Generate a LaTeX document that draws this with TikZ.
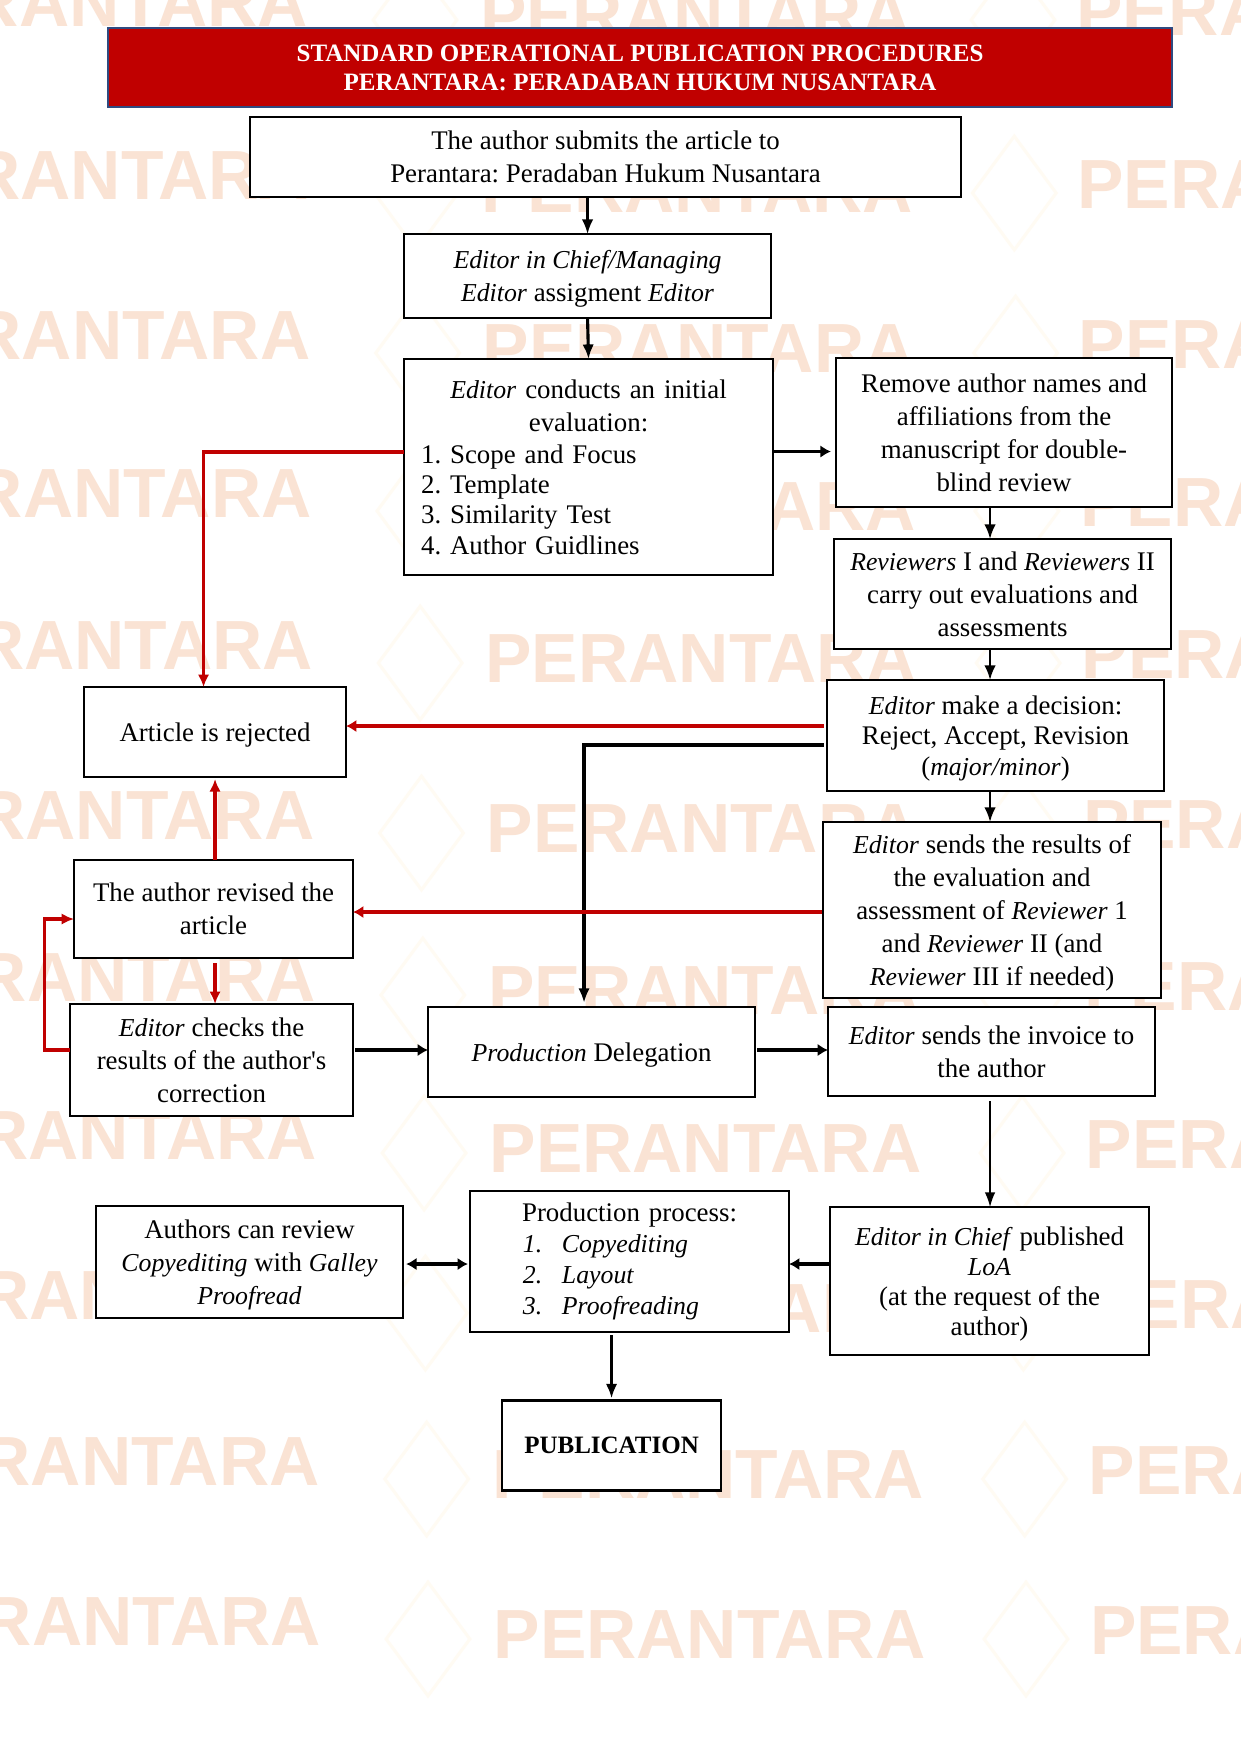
\documentclass[tikz,border=0pt]{standalone}
\usepackage{fontspec}
\setmainfont{Liberation Serif}[ItalicFeatures={Scale=0.96}]
\newfontfamily\wmfont{Liberation Sans}
\usetikzlibrary{arrows.meta,shapes.geometric}
\definecolor{wmtext}{HTML}{FAE3D4}
\definecolor{wmlogo}{HTML}{FFFBF3}
\definecolor{redbox}{HTML}{C00000}
\definecolor{bluerim}{HTML}{2F4A80}
\def\px{0.48pt}
\newcommand{\listrow}[4]{\makebox[\linewidth][l]{\hspace{#1}\makebox[#2][l]{#3}#4}}
\tikzset{
    boxed/.style args={#1/#2}{draw, line width=1.1pt, fill=white, inner sep=0pt, outer sep=0pt, align=center,
        minimum width=#1*\px, minimum height=#2*\px, font=\fontsize{12.9}{15.8}\selectfont\frenchspacing},
    lowered/.style={text depth=0pt},
    flow/.style={-{Latex[length=7pt,width=5.5pt]}, line width=1.1pt},
    flowelbow/.style={-{Latex[length=7pt,width=5.5pt]}, line width=1.5pt},
    flowthick/.style={-{Latex[length=5pt,width=6pt]}, line width=1.7pt},
    flowthin/.style={-{Latex[length=7pt,width=5pt]}, line width=0.7pt},
    flowred/.style={-{Latex[length=6pt,width=5.5pt]}, line width=1.5pt, draw=redbox},
    flowredthick/.style={-{Latex[length=5pt,width=6pt]}, line width=1.6pt, draw=redbox},
    wmword/.style={text=wmtext, font=\wmfont\fontsize{33.4}{34}\selectfont\bfseries, inner sep=0pt},
    wmdiamond/.style={diamond, draw=wmlogo, line width=1.5pt, minimum width=85*\px, minimum height=115*\px, inner sep=0pt}
}
\begin{document}
\begin{tikzpicture}[x=0.48pt,y=-0.48pt]
    \useasboundingbox (0,0) rectangle (1241,1755);
    \fill[white] (0,0) rectangle (1241,1755);
    % watermark
    \foreach \i/\yy in {0/3,1/176,2/336,3/494,4/646,5/816,6/978,7/1136,8/1296,9/1462,10/1622}{
        \node[wmdiamond, name=logoa\i] at ({415+\i*1.3},{\yy+17}) {};
        \node[wmdiamond, name=logob\i] at ({1013+\i*1.3},{\yy+17}) {};
        \node[wmword, name=wma\i] at ({92+\i*1.3},{\yy}) {PERANTARA};
        \node[wmword, name=wmb\i] at ({696+\i*1.35},{\yy+13}) {PERANTARA};
        \node[wmword, name=wmc\i] at ({1292+\i*1.4},{\yy+9}) {PERANTARA};
    }
    \begin{scope}[xshift=0.5pt]
    % boxes
    \node[draw=bluerim, fill=redbox, line width=1.1pt, text=white, inner sep=0pt, outer sep=0pt, align=center,
        minimum width=1064*\px, minimum height=79*\px, font=\fontsize{12}{14}\selectfont\bfseries] (title) at (639,67.5)
        {STANDARD OPERATIONAL PUBLICATION PROCEDURES\\PERANTARA: PERADABAN HUKUM NUSANTARA};
    \node[boxed=711/80] (submit) at (604.5,157) {The author submits the article to\\Perantara: Peradaban Hukum Nusantara};
    \node[boxed=367/84, lowered] (chief) at (586.5,276) {\textit{Editor in Chief/Managing}\\\textit{Editor} assigment \textit{Editor}};
    \node[boxed=369/216, text width=369*\px] (eval) at (587.5,467) {\textit{Editor} conducts an initial\\evaluation:\\[-0.2pt]
        \listrow{8.2pt}{13.9pt}{1.}{Scope and Focus}\\[-1.3pt]
        \listrow{8.2pt}{13.9pt}{2.}{Template}\\[-1.3pt]
        \listrow{8.2pt}{13.9pt}{3.}{Similarity Test}\\[-1.3pt]
        \listrow{8.2pt}{13.9pt}{4.}{Author Guidlines}};
    \node[boxed=336/149] (remove) at (1003,432.5) {Remove author names and\\affiliations from the\\manuscript for double-\\blind review};
    \node[boxed=337/110] (reviewers) at (1001.5,594) {\textit{Reviewers} I and \textit{Reviewers} II\\carry out evaluations and\\assessments};
    \node[boxed=337/111, lowered] (decision) at (994.5,735.5) {\textit{Editor} make a decision:\\[-1pt]Reject, Accept, Revision\\[-1pt](\textit{major/minor})};
    \node[boxed=338/176, lowered] (results) at (991,910) {\textit{Editor} sends the results of\\the evaluation and\\assessment of \textit{Reviewer} 1\\and \textit{Reviewer} II (and\\\textit{Reviewer} III if needed)};
    \node[boxed=262/90, lowered] (rejected) at (214,732) {Article is rejected};
    \node[boxed=279/98] (revised) at (212.5,909) {The author revised the\\article};
    \node[boxed=283/112] (checks) at (210.5,1060) {\textit{Editor} checks the\\results of the author\textquotesingle s\\correction};
    \node[boxed=327/90, lowered] (delegation) at (590.5,1052) {\textit{Production} Delegation};
    \node[boxed=327/89] (invoice) at (990.5,1051.5) {\textit{Editor} sends the invoice to\\the author};
    \node[boxed=319/148, lowered] (loa) at (988.5,1281) {\textit{Editor in Chief} published\\[-1.3pt]\textit{LoA}\\[-1.3pt](at the request of the\\[-1.3pt]author)};
    \node[boxed=319/141, text width=319*\px] (process) at (628.5,1261.5) {Production process:\\[-1pt]
        \listrow{25.4pt}{18.7pt}{\textit{1.}}{\textit{Copyediting}}\\[-1pt]
        \listrow{25.4pt}{18.7pt}{\textit{2.}}{\textit{Layout}}\\[-1pt]
        \listrow{25.4pt}{18.7pt}{\textit{3.}}{\textit{Proofreading}}};
    \node[boxed=307/112, lowered] (review) at (248.5,1262) {Authors can review\\\textit{Copyediting} with \textit{Galley}\\\textit{Proofread}};
    \node[boxed=219/90, font=\fontsize{12}{14}\selectfont] (publication) at (610.5,1445.5) {\textbf{PUBLICATION}};
    % helpers
    \coordinate (axisr) at (989,0);
    \coordinate (toreject) at (0,726);
    \coordinate (todeleg) at (583,745);
    \coordinate (torevise) at (0,912);
    \coordinate (evalout) at (0,451.5);
    \coordinate (evalred) at (202.5,452);
    \coordinate (loopa) at (43.5,1050);
    \coordinate (loopb) at (43.5,919);
    \coordinate (prodline) at (0,1050);
    \coordinate (pressline) at (0,1264);
    % black connectors
    \draw[flow] (submit.south -| chief.north) -- (chief.north);
    \draw[flowelbow] (chief.south) -- (eval.north);
    \draw[flowthick, shorten >=2.5pt] (eval.east |- evalout) -- (remove.west |- evalout);
    \draw[flow] (remove.south -| axisr) -- (reviewers.north -| axisr);
    \draw[flow] (reviewers.south -| axisr) -- (decision.north -| axisr);
    \draw[flow] (decision.south -| axisr) -- (results.north -| axisr);
    \draw[flowelbow, shorten >=2pt, shorten <=1.5pt] (decision.west |- todeleg) -- (todeleg) -- (delegation.north -| todeleg);
    \draw[flowthick, shorten <=1pt] (checks.east |- prodline) -- (delegation.west |- prodline);
    \draw[flowthick, shorten <=1pt] (delegation.east |- prodline) -- (invoice.west |- prodline);
    \draw[flowthin, shorten <=2.5pt] (invoice.south -| axisr) -- (loa.north -| axisr);
    \draw[flowthick] (loa.west |- pressline) -- (process.east |- pressline);
    \draw[flowthick, {Latex[length=5pt,width=6pt]}-{Latex[length=5pt,width=6pt]}, shorten <=1.5pt, shorten >=1pt] (review.east |- pressline) -- (process.west |- pressline);
    \draw[flowelbow, shorten <=1.5pt, shorten >=1pt] (process.south -| publication.north) -- (publication.north);
    % red connectors
    \draw[flowred] (eval.west |- evalred) -- (evalred) -- (rejected.north -| evalred);
    \draw[flowredthick, shorten <=1.5pt] (decision.west |- toreject) -- (rejected.east |- toreject);
    \draw[flowredthick, shorten <=0.5pt] (results.west |- torevise) -- (revised.east |- torevise);
    \draw[flowred, shorten >=1pt] (revised.north -| rejected.south) -- (rejected.south);
    \draw[flowred, shorten <=2.5pt] (revised.south -| rejected.south) -- (checks.north -| rejected.south);
    \draw[flowred] (checks.west |- loopa) -- (loopa) -- (loopb) -- (revised.west |- loopb);
    \end{scope}
\end{tikzpicture}
\end{document}
